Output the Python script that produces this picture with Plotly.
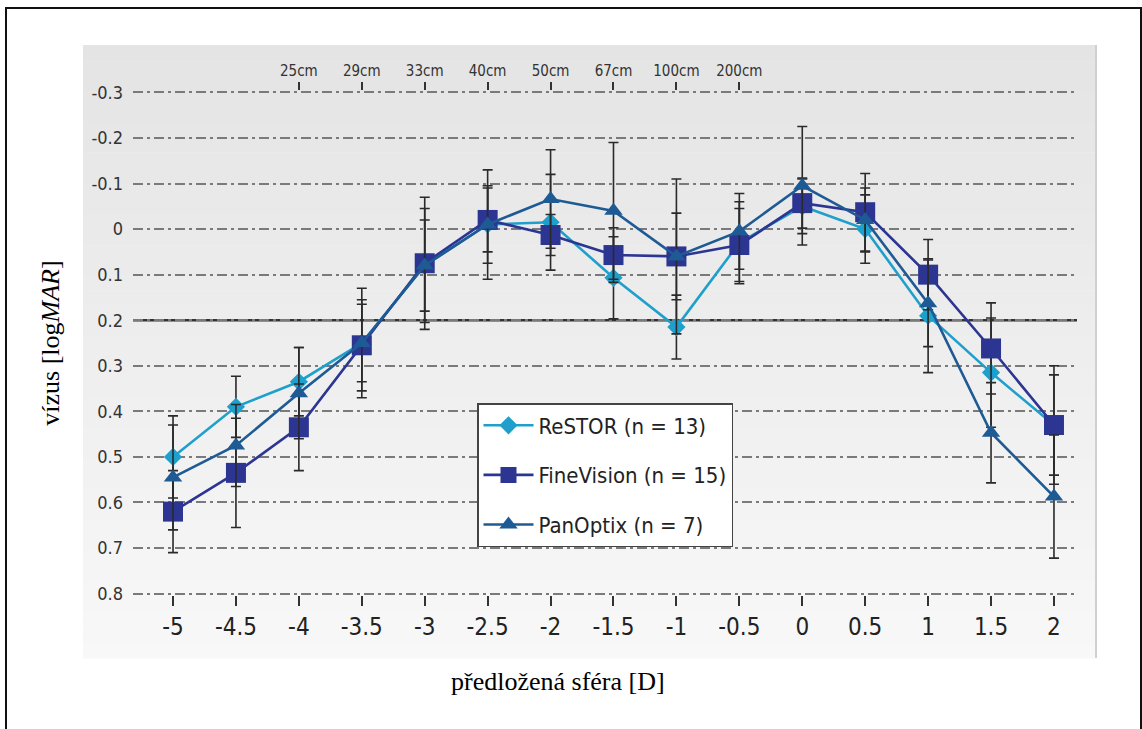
import plotly.graph_objects as go

# ---------------- data ----------------
sphere = [-5, -4.5, -4, -3.5, -3, -2.5, -2, -1.5, -1, -0.5, 0, 0.5, 1, 1.5, 2]

restor = [0.50, 0.39, 0.335, 0.25, 0.08, -0.01, -0.015, 0.107, 0.215, 0.03, -0.05, 0.0, 0.19, 0.315, 0.43]
restor_err = [0.09, 0.067, 0.075, 0.12, 0.125, 0.12, 0.105, 0.09, 0.07, 0.09, 0.06, 0.075, 0.125, 0.12, 0.11]

finevision = [0.62, 0.535, 0.435, 0.255, 0.075, -0.02, 0.013, 0.057, 0.06, 0.035, -0.057, -0.037, 0.10, 0.262, 0.43]
finevision_err = [0.09, 0.12, 0.095, 0.10, 0.145, 0.07, 0.045, 0.06, 0.095, 0.08, 0.055, 0.085, 0.077, 0.10, 0.13]

panoptix = [0.545, 0.475, 0.36, 0.25, 0.08, -0.01, -0.066, -0.04, 0.06, 0.005, -0.095, -0.02, 0.163, 0.447, 0.587]
panoptix_err = [0.115, 0.09, 0.10, 0.085, 0.10, 0.085, 0.108, 0.15, 0.17, 0.083, 0.13, 0.07, 0.095, 0.11, 0.135]

y_ticks = [-0.3, -0.2, -0.1, 0, 0.1, 0.2, 0.3, 0.4, 0.5, 0.6, 0.7, 0.8]
y_ticktext = ["-0.3", "-0.2", "-0.1", "0", "0.1", "0.2", "0.3", "0.4", "0.5", "0.6", "0.7", "0.8"]
x_ticktext = ["-5", "-4.5", "-4", "-3.5", "-3", "-2.5", "-2", "-1.5", "-1", "-0.5", "0", "0.5", "1", "1.5", "2"]

dist_pos = [-4, -3.5, -3, -2.5, -2, -1.5, -1, -0.5]
dist_labels = ["25cm", "29cm", "33cm", "40cm", "50cm", "67cm", "100cm", "200cm"]

threshold = 0.2

x_title = "předložená sféra [D]"
y_title = "vízus [log<i>MAR</i>]"

# ---------------- style ----------------
W, H = 1142, 729
L, R, T, B = 133, 65, 91, 134
pw, ph = W - L - R, H - T - B

def px2paper_x(px):
    return (px - L) / pw

def px2paper_y(py):
    return (H - B - py) / ph

narrow = "DejaVu Sans Condensed, Liberation Sans Narrow, Arial Narrow, Roboto, sans-serif"
serif = "Liberation Serif, Times New Roman, serif"

C_RESTOR = "#1F9FCB"
C_FINE = "#2C3591"
C_PAN = "#1E5A94"

fig = go.Figure()

def add_series(name, y, err, color, symbol, size, group):
    fig.add_trace(go.Scatter(
        x=sphere, y=y, name=name, mode="lines+markers",
        legendgroup=group,
        line=dict(color=color, width=2.6),
        marker=dict(symbol=symbol, size=size, color=color),
        error_y=dict(type="data", array=err, visible=True, color="#2a2a2a",
                     thickness=1.6, width=5),
    ))

add_series("ReSTOR (n = 13)", restor, restor_err, C_RESTOR, "diamond", 14, "a")
add_series("FineVision (n = 15)", finevision, finevision_err, C_FINE, "square", 20, "b")
add_series("PanOptix (n = 7)", panoptix, panoptix_err, C_PAN, "triangle-up", 16, "c")

# dummy trace for top axis
fig.add_trace(go.Scatter(x=[sphere[0], sphere[-1]], y=[0, 0], xaxis="x2", mode="markers",
                         marker=dict(opacity=0), showlegend=False, hoverinfo="skip"))

shapes = []
# outer frame
shapes.append(dict(type="rect", xref="paper", yref="paper",
                   x0=px2paper_x(6), x1=px2paper_x(1141), y0=px2paper_y(740), y1=px2paper_y(8),
                   line=dict(color="#111", width=2), fillcolor="white", layer="below"))
# gradient gray panel
top_px, bot_px = 45, 658
n = 40
c_top, c_bot = (228, 228, 228), (248, 248, 248)
for i in range(n):
    f = i / (n - 1)
    c = tuple(int(round(c_top[k] + (c_bot[k] - c_top[k]) * f)) for k in range(3))
    y0 = top_px + (bot_px - top_px) * i / n
    y1 = top_px + (bot_px - top_px) * (i + 1) / n
    shapes.append(dict(type="rect", xref="paper", yref="paper",
                       x0=px2paper_x(83), x1=px2paper_x(1097),
                       y0=px2paper_y(y1 + 0.5), y1=px2paper_y(y0),
                       line=dict(width=0), fillcolor="rgb(%d,%d,%d)" % c, layer="below"))
# right edge of panel
shapes.append(dict(type="line", xref="paper", yref="paper",
                   x0=px2paper_x(1096), x1=px2paper_x(1096), y0=px2paper_y(658), y1=px2paper_y(45),
                   line=dict(color="#d0d0d0", width=2), layer="below"))
# threshold line
shapes.append(dict(type="line", xref="paper", yref="y", x0=0, x1=1, y0=threshold, y1=threshold,
                   line=dict(color="#333333", width=2.5), layer="between"))

fig.update_layout(
    width=W, height=H,
    margin=dict(l=L, r=R, t=T, b=B, pad=0),
    paper_bgcolor="white",
    plot_bgcolor="rgba(0,0,0,0)",
    shapes=shapes,
    showlegend=True,
    legend=dict(x=px2paper_x(477), y=px2paper_y(403), xanchor="left", yanchor="top",
                bgcolor="white", bordercolor="#444", borderwidth=1.5,
                font=dict(family=narrow, size=22, color="#222"),
                tracegroupgap=18, itemwidth=50),
    annotations=[dict(text=x_title, xref="paper", yref="paper",
                      x=px2paper_x(558), y=px2paper_y(681), xanchor="center", yanchor="middle",
                      showarrow=False, font=dict(family=serif, size=26, color="#000"))],
    xaxis=dict(range=[-5.318, 2.183], tickvals=sphere, ticktext=x_ticktext,
               ticks="outside", ticklen=10, tickwidth=2, tickcolor="#333",
               showgrid=False, zeroline=False, showline=False,
               tickfont=dict(family=narrow, size=24, color="#222")),
    xaxis2=dict(range=[-5.318, 2.183], overlaying="x", side="top", anchor="y",
                tickvals=dist_pos, ticktext=dist_labels,
                ticks="outside", ticklen=8, tickwidth=2, tickcolor="#333",
                showgrid=False, zeroline=False, showline=False,
                tickfont=dict(family=narrow, size=15, color="#333")),
    yaxis=dict(range=[0.803, -0.303], tickvals=y_ticks, ticktext=y_ticktext,
               showgrid=True, gridcolor="#7a7a7a", gridwidth=2, griddash="10px,4px,3px,4px",
               zeroline=False, showline=False, ticks="", ticklabelstandoff=9,
               tickfont=dict(family=narrow, size=18, color="#333"),
               title=dict(text=y_title, font=dict(family=serif, size=26, color="#000"),
                          standoff=24)),
)

fig.write_html("out.html")
